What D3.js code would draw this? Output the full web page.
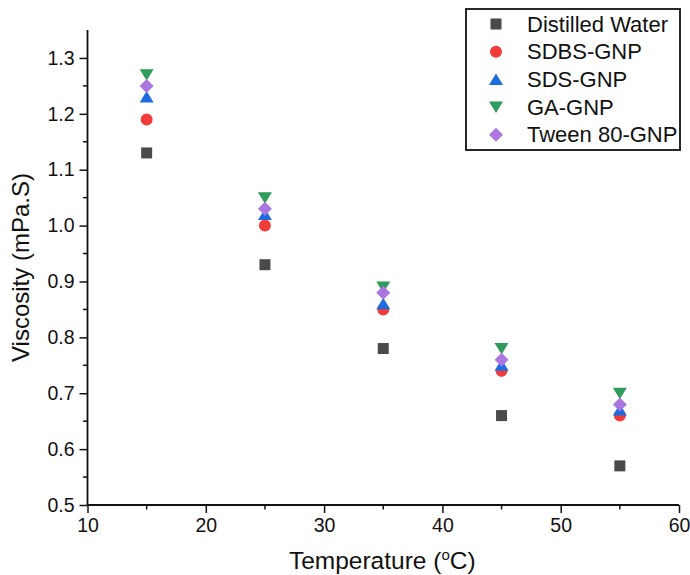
<!DOCTYPE html>
<html>
<head>
<meta charset="utf-8">
<script src="https://cdn.jsdelivr.net/npm/d3@7"></script>
<style>
  body { margin: 0; background: #fff; }
  text { font-family: "Liberation Sans", Arial, sans-serif; fill: #111; }
</style>
</head>
<body>
<svg width="690" height="575"></svg>
<script>
const temps = [15, 25, 35, 45, 55]
const distilledWater = [1.13, 0.93, 0.78, 0.66, 0.57]
const sdbsGnp = [1.19, 1.00, 0.85, 0.74, 0.66]
const sdsGnp = [1.23, 1.02, 0.86, 0.75, 0.67]
const gaGnp = [1.27, 1.05, 0.89, 0.78, 0.70]
const tweenGnp = [1.25, 1.03, 0.88, 0.76, 0.68]
const xTicks = [10, 20, 30, 40, 50, 60]
const yTicks = [0.5, 0.6, 0.7, 0.8, 0.9, 1.0, 1.1, 1.2, 1.3]

const series = [
  {name: 'Distilled Water', values: distilledWater, shape: 'square', color: '#4a4a4a'},
  {name: 'SDBS-GNP', values: sdbsGnp, shape: 'circle', color: '#f23b3b'},
  {name: 'SDS-GNP', values: sdsGnp, shape: 'up', color: '#1d6de0'},
  {name: 'GA-GNP', values: gaGnp, shape: 'down', color: '#2f9b5c'},
  {name: 'Tween 80-GNP', values: tweenGnp, shape: 'diamond', color: '#ac76e0'},
]

const svg = d3.select('svg')
const x = d3.scaleLinear().domain([10, 60]).range([87.5, 679])
const y = d3.scaleLinear().domain([0.5, 1.35]).range([505, 30])

// marker path centred on 0,0
function marker(shape){
  const s = 6
  if(shape == 'square') return `M${-s+0.5},${-s+0.5}h${2*s-1}v${2*s-1}h${-(2*s-1)}Z`
  if(shape == 'circle') return d3.symbol(d3.symbolCircle, 113)()
  if(shape == 'up') return `M0,${-s}L${s+1},${s-0.5}L${-s-1},${s-0.5}Z`
  if(shape == 'down') return `M0,${s}L${s+1},${-s+0.5}L${-s-1},${-s+0.5}Z`
  if(shape == 'diamond') return `M0,${-s-1}L${s+1},0L0,${s+1}L${-s-1},0Z`
}

// axes
const xAxis = d3.axisBottom(x).tickValues(xTicks).tickSize(8).tickPadding(5).tickFormat(d3.format('d'))
const yAxis = d3.axisLeft(y).tickValues(yTicks).tickSize(8).tickPadding(5).tickFormat(d3.format('.1f'))

const gx = svg.append('g').attr('transform', `translate(0,${y(0.5)})`).call(xAxis)
const gy = svg.append('g').attr('transform', `translate(${x(10)},0)`).call(yAxis)

// minor ticks
gx.selectAll('.minor').data(d3.range(15, 60, 10)).enter().append('line')
  .attr('x1', d => x(d)).attr('x2', d => x(d)).attr('y1', 0).attr('y2', 4.5)
  .attr('stroke', '#111').attr('stroke-width', 1.5)
gy.selectAll('.minor').data(d3.range(0.55, 1.35, 0.1)).enter().append('line')
  .attr('y1', d => y(d)).attr('y2', d => y(d)).attr('x1', 0).attr('x2', -4.5)
  .attr('stroke', '#111').attr('stroke-width', 1.5)

;[gx, gy].forEach(g => {
  g.select('.domain').attr('stroke', '#111').attr('stroke-width', 1.8)
  g.selectAll('.tick line').attr('stroke', '#111').attr('stroke-width', 1.5)
  g.selectAll('.tick text').style('font-size', '19.5px').attr('fill', '#111')
    .style('font-family', '"Liberation Sans", Arial, sans-serif')
})
gy.select('.domain').attr('d', `M0,${y(1.35)}V${y(0.5)}`)
gx.select('.domain').attr('d', `M${x(10)},0H${x(60)}`)

// axis titles
const xt = svg.append('text').attr('x', (x(10) + x(60)) / 2 - 1).attr('y', 569)
  .attr('text-anchor', 'middle').style('font-size', '24.5px')
xt.append('tspan').text('Temperature (')
xt.append('tspan').text('o').attr('dy', -9).style('font-size', '15px')
xt.append('tspan').text('C)').attr('dy', 9)

svg.append('text').attr('transform', `translate(29,${(y(0.5) + y(1.35)) / 2})rotate(-90)`)
  .attr('text-anchor', 'middle').style('font-size', '24px').text('Viscosity (mPa.S)')

// points, drawn in series order
const plot = svg.append('g')
series.forEach(s => {
  plot.selectAll(null).data(s.values).enter().append('path')
    .attr('d', marker(s.shape))
    .attr('transform', (d, i) => `translate(${x(temps[i])},${y(d)})`)
    .attr('fill', s.color)
})

// legend
const lg = svg.append('g').attr('transform', 'translate(466,9)')
lg.append('rect').attr('width', 214).attr('height', 141)
  .attr('fill', '#fff').attr('stroke', '#111').attr('stroke-width', 1.8)
const rows = lg.selectAll('.row').data(series).enter().append('g')
  .attr('transform', (d, i) => `translate(0,${15 + i * 27.7})`)
rows.append('path').attr('d', d => marker(d.shape)).attr('fill', d => d.color)
  .attr('transform', 'translate(30,0)')
rows.append('text').attr('x', 61).attr('y', 7.5).style('font-size', '22px').text(d => d.name)
</script>
</body>
</html>
